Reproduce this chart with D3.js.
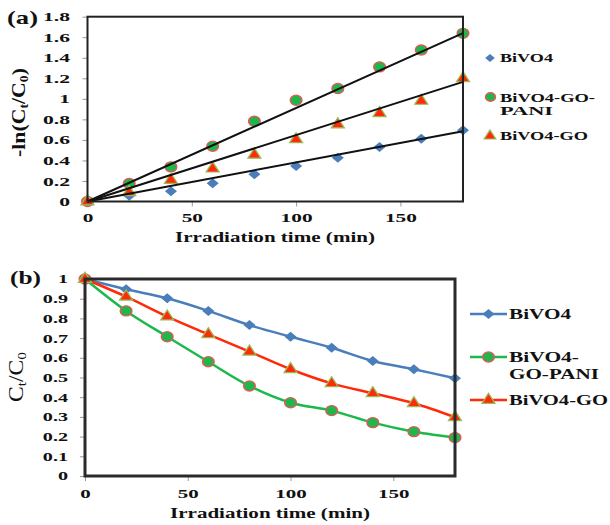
<!DOCTYPE html>
<html><head><meta charset="utf-8">
<script src="https://cdn.jsdelivr.net/npm/d3@7"></script>
<style>body{margin:0;background:#fff}svg{display:block}</style>
</head><body><svg id="c" width="610" height="525"></svg>
<script>
// ---------- data ----------
const times = [0, 20, 40, 60, 80, 100, 120, 140, 160, 180];
const seriesNames = ["BiVO4", "BiVO4-GO-PANI", "BiVO4-GO"];
// panel (a): -ln(Ct/C0)
const lnBiVO4 = [0, 0.055, 0.10, 0.178, 0.265, 0.345, 0.425, 0.53, 0.612, 0.693];
const lnPANI  = [0, 0.175, 0.337, 0.538, 0.781, 0.986, 1.10, 1.311, 1.475, 1.638];
const lnGO    = [0, 0.09, 0.21, 0.32, 0.455, 0.605, 0.75, 0.86, 0.98, 1.20];
// linear trend lines (start, end) at t = 0 and t = 180
const trendBiVO4 = [0, 0.685];
const trendPANI  = [0, 1.64];
const trendGO    = [0, 1.165];
// panel (b): Ct/C0
const cBiVO4 = [1.0, 0.948, 0.902, 0.838, 0.766, 0.707, 0.651, 0.584, 0.542, 0.496];
const cPANI  = [1.0, 0.838, 0.707, 0.58, 0.457, 0.372, 0.332, 0.271, 0.225, 0.195];
const cGO    = [1.0, 0.91, 0.809, 0.719, 0.631, 0.542, 0.47, 0.42, 0.369, 0.298];
// ticks
const xTicks = [0, 50, 100, 150];
const xTickLabels = ["0", "50", "100", "150"];
const yTicksA = [0, 0.2, 0.4, 0.6, 0.8, 1, 1.2, 1.4, 1.6, 1.8];
const yTickLabelsA = ["0", "0.2", "0.4", "0.6", "0.8", "1", "1.2", "1.4", "1.6", "1.8"];
const yTicksB = [0, 0.1, 0.2, 0.3, 0.4, 0.5, 0.6, 0.7, 0.8, 0.9, 1];
const yTickLabelsB = ["0", "0.1", "0.2", "0.3", "0.4", "0.5", "0.6", "0.7", "0.8", "0.9", "1"];

// ---------- styles ----------
const FONT = "'Liberation Serif','Times New Roman',serif";
const BLUE = "#4a7ebb", GREEN = "#1cb84a", RED = "#ff2a08";
const CIRC_STROKE = "#e0585a", TRI_STROKE = "#9bbb59";
const svg = d3.select("#c");
svg.append("rect").attr("width", 610).attr("height", 525).attr("fill", "#fff");

function marker(g, type, x, y, k) {
  k = k || 1;
  if (type === 0) {
    g.append("path").attr("d", d3.symbol(d3.symbolSquare, 50 * k * k)())
      .attr("transform", `translate(${x},${y}) scale(1.2,1) rotate(45)`)
      .attr("fill", BLUE);
  } else if (type === 1) {
    g.append("path").attr("d", d3.symbol(d3.symbolCircle, 80 * k * k)())
      .attr("transform", `translate(${x},${y}) scale(1.15,1)`)
      .attr("fill", GREEN).attr("stroke", CIRC_STROKE).attr("stroke-width", 1.3);
  } else {
    g.append("path").attr("d", d3.symbol(d3.symbolTriangle, 58 * k * k)())
      .attr("transform", `translate(${x},${y}) scale(1.12,1)`)
      .attr("fill", RED).attr("stroke", TRI_STROKE).attr("stroke-width", 1.2);
  }
}

function styleAxis(g, sx, fs, isLeft, off) {
  g.select(".domain").remove();
  g.selectAll(".tick line").attr("stroke", "#999").attr("stroke-width", 1);
  g.selectAll(".tick text").each(function () {
    const t = d3.select(this);
    t.attr("font-family", FONT).attr("font-weight", "bold").attr("font-size", fs).attr("fill", "#111");
    if (isLeft) {
      t.attr("x", 0).attr("dy", "0.34em").attr("transform", `translate(${-off},0) scale(${sx},1)`);
    } else {
      t.attr("y", 0).attr("dy", 0).attr("transform", `translate(0,${off}) scale(${sx},1)`);
    }
  });
}

function label(txt, x, y, fs, len, weight) {
  return svg.append("text").attr("x", x).attr("y", y).attr("font-family", FONT)
    .attr("font-weight", weight || "bold").attr("font-size", fs).attr("fill", "#111")
    .attr("textLength", len).attr("lengthAdjust", "spacingAndGlyphs").text(txt);
}

// ================= Panel (a) =================
{
  const L = 87.5, R = 463, T = 16.7, B = 201.5;
  const x = d3.scaleLinear().domain([0, 180]).range([L, R]);
  const y = d3.scaleLinear().domain([0, 1.8]).range([B, T]);

  const gy = svg.append("g").attr("transform", `translate(${L},0)`)
    .call(d3.axisLeft(y).tickValues(yTicksA).tickFormat((d, i) => yTickLabelsA[i]).tickSize(5));
  styleAxis(gy, 1.8, 12, true, 17.5);
  const gx = svg.append("g").attr("transform", `translate(0,${B})`)
    .call(d3.axisBottom(x).tickValues(xTicks).tickFormat((d, i) => xTickLabels[i]).tickSize(5));
  styleAxis(gx, 1.78, 12, false, 20.5);

  const series = [lnBiVO4, lnPANI, lnGO];
  const trends = [trendBiVO4, trendPANI, trendGO];
  const gm = svg.append("g");
  series.forEach((s, si) => s.forEach((v, i) => marker(gm, si, x(times[i]), y(v))));
  const line = d3.line().x(d => x(d[0])).y(d => y(d[1]));
  trends.forEach(tr => {
    svg.append("path").attr("d", line([[times[0], tr[0]], [times[times.length - 1], tr[1]]]))
      .attr("stroke", "#111").attr("stroke-width", 2).attr("fill", "none");
  });

  svg.append("rect").attr("x", L).attr("y", T).attr("width", R - L).attr("height", B - T)
    .attr("fill", "none").attr("stroke", "#222").attr("stroke-width", 2);

  label("(a)", 7, 23.5, 19.5, 31);
  label("Irradiation time (min)", 175, 242, 15, 200);

  // y title
  const yt = svg.append("text").attr("transform", "translate(25,157) rotate(-90)")
    .attr("font-family", FONT).attr("font-weight", "bold").attr("font-size", 19).attr("fill", "#111")
    .attr("textLength", 89).attr("lengthAdjust", "spacingAndGlyphs");
  yt.append("tspan").text("-ln(C");
  yt.append("tspan").attr("font-size", 12).attr("dy", 3).text("t");
  yt.append("tspan").attr("dy", -3).text("/C");
  yt.append("tspan").attr("font-size", 12).attr("dy", 3).text("0");
  yt.append("tspan").attr("dy", -3).text(")");

  // legend
  const gl = svg.append("g");
  marker(gl, 0, 490, 58, 0.8);
  label(seriesNames[0], 500, 62, 12.7, 53);
  marker(gl, 1, 490.5, 97, 0.85);
  label("BiVO4-GO-", 500, 102, 12.7, 95);
  label("PANI", 500, 115, 12.7, 53);
  marker(gl, 2, 490, 136, 0.9);
  label(seriesNames[2], 500, 140, 12.7, 88);
}

// ================= Panel (b) =================
{
  const L = 85, R = 455, T = 279, B = 476;
  const x = d3.scaleLinear().domain([0, 180]).range([L, R]);
  const y = d3.scaleLinear().domain([0, 1]).range([B, T]);

  const gy = svg.append("g").attr("transform", `translate(${L},0)`)
    .call(d3.axisLeft(y).tickValues(yTicksB).tickFormat((d, i) => yTickLabelsB[i]).tickSize(5));
  styleAxis(gy, 1.75, 11.5, true, 17);
  const gx = svg.append("g").attr("transform", `translate(0,${B})`)
    .call(d3.axisBottom(x).tickValues(xTicks).tickFormat((d, i) => xTickLabels[i]).tickSize(5));
  styleAxis(gx, 1.75, 12, false, 22);

  const series = [cBiVO4, cPANI, cGO];
  const colors = [BLUE, GREEN, RED];
  const line = d3.line().x((d, i) => x(times[i])).y(d => y(d)).curve(d3.curveCatmullRom.alpha(0.5));
  series.forEach((s, si) => {
    svg.append("path").attr("d", line(s)).attr("stroke", colors[si]).attr("stroke-width", 2.5)
      .attr("fill", "none");
  });
  const gm = svg.append("g");
  series.forEach((s, si) => s.forEach((v, i) => marker(gm, si, x(times[i]), y(v))));

  svg.append("rect").attr("x", L).attr("y", T).attr("width", R - L).attr("height", B - T)
    .attr("fill", "none").attr("stroke", "#2a2a2a").attr("stroke-width", 3);

  label("(b)", 10, 283.5, 19.5, 31);
  label("Irradiation time (min)", 170, 518, 15, 200);

  const yt = svg.append("text").attr("transform", "translate(23,402) rotate(-90)")
    .attr("font-family", FONT).attr("font-size", 20).attr("fill", "#111")
    .attr("textLength", 50).attr("lengthAdjust", "spacingAndGlyphs");
  yt.append("tspan").text("C");
  yt.append("tspan").attr("font-size", 13).attr("dy", 3).text("t");
  yt.append("tspan").attr("dy", -3).text("/C");
  yt.append("tspan").attr("font-size", 13).attr("dy", 3).text("0");

  // legend
  const gl = svg.append("g");
  const ly = [314, 357, 400];
  ly.forEach((yy, si) => {
    gl.append("line").attr("x1", 470).attr("x2", 507).attr("y1", yy).attr("y2", yy)
      .attr("stroke", colors[si]).attr("stroke-width", 2.5);
    marker(gl, si, 488.5, yy);
  });
  label(seriesNames[0], 509, 319, 15, 62);
  label("BiVO4-", 509, 362, 15, 70);
  label("GO-PANI", 509, 379, 15, 90);
  label(seriesNames[2], 509, 405, 15, 99);
}
</script></body></html>
